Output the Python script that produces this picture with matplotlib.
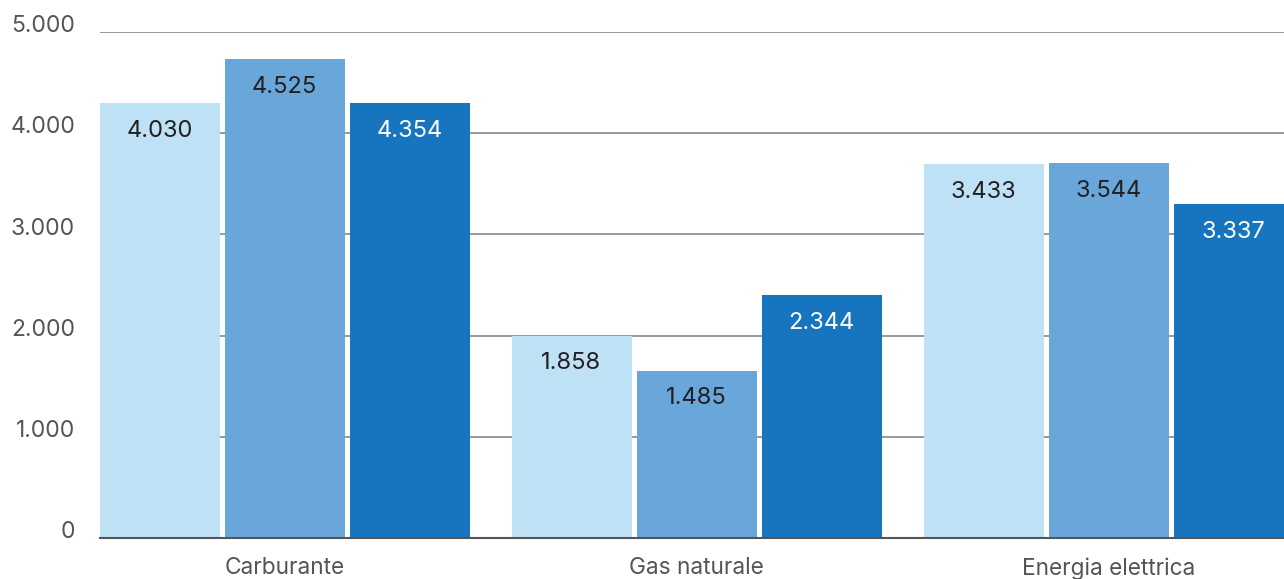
import numpy as np
import matplotlib.pyplot as plt
import matplotlib.transforms as mtransforms

plt.rcParams['font.family'] = ['Inter', 'DejaVu Sans']

categories = ['Carburante', 'Gas naturale', 'Energia elettrica']
# bar heights as drawn in the picture, and the printed labels
heights_1 = [4300, 2000, 3695]
heights_2 = [4730, 1655, 3705]
heights_3 = [4300, 2398, 3298]
labels_1 = ['4.030', '1.858', '3.433']
labels_2 = ['4.525', '1.485', '3.544']
labels_3 = ['4.354', '2.344', '3.337']
yticks = [0, 1000, 2000, 3000, 4000, 5000]
ytick_labels = ['0', '1.000', '2.000', '3.000', '4.000', '5.000']

colors = ['#BEE1F6', '#69A6DA', '#1675BE']
text_colors = ['#231F20', '#231F20', 'white']

W, H = 1284, 579
fig = plt.figure(figsize=(W / 100, H / 100), dpi=100)
ax = fig.add_axes([100 / W, (H - 538) / H, (W - 100) / W, (538 - 32) / H])

x = np.arange(len(categories))
pitch = 125 / 412
width = 120 / 412

series = [(heights_1, labels_1), (heights_2, labels_2), (heights_3, labels_3)]
for i, (h, labs) in enumerate(series):
    pos = x + (i - 1) * pitch
    ax.bar(pos, h, width, color=colors[i], zorder=2)
    for xp, hv, lab in zip(pos, h, labs):
        ax.annotate(lab, (xp, hv), xytext=(0, -20), textcoords='offset points',
                    ha='center', va='center', fontsize=17, color=text_colors[i])

ax.set_xlim(-184.5 / 412, 2 + 175.5 / 412)
ax.set_ylim(0, 5000)
ax.set_yticks(yticks)
ax.set_yticklabels(ytick_labels, fontsize=16.5, color='#555555')
ax.set_xticks(x)
ax.set_xticklabels(categories, fontsize=16.3, color='#555555')
ax.tick_params(axis='y', length=0, pad=18)
ax.tick_params(axis='x', length=0, pad=14)
offset = mtransforms.ScaledTranslation(0, 6 / 72, fig.dpi_scale_trans)
for lab in ax.get_yticklabels():
    lab.set_transform(lab.get_transform() + offset)

ax.grid(axis='y', color='#888888', linewidth=1.2, zorder=0)
ax.set_axisbelow(True)
for s in ['top', 'right', 'left']:
    ax.spines[s].set_visible(False)
ax.spines['bottom'].set_color('#555555')
ax.spines['bottom'].set_linewidth(1.5)
ax.spines['bottom'].set_zorder(3)

fig.savefig('out.png', dpi=100)
